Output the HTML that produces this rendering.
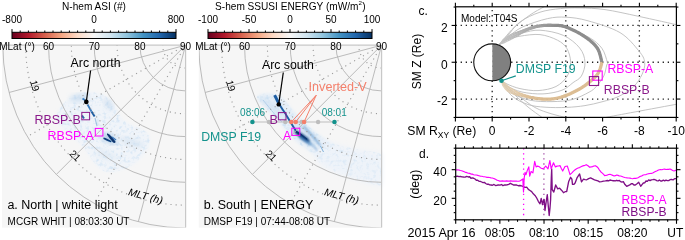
<!DOCTYPE html><html><head><meta charset="utf-8"><style>html,body{margin:0;padding:0;background:#fff;width:685px;height:240px;overflow:hidden}svg{display:block;will-change:transform}</style></head><body><svg width="685" height="240" viewBox="0 0 685 240" font-family='"Liberation Sans", sans-serif'>
<rect width="685" height="240" fill="#fff"/>
<defs><filter id="blur1" x="-20%" y="-20%" width="140%" height="140%"><feGaussianBlur stdDeviation="2.5"/></filter><filter id="blur2" x="-20%" y="-20%" width="140%" height="140%"><feGaussianBlur stdDeviation="0.55"/></filter><filter id="soft" x="-10%" y="-10%" width="120%" height="120%"><feGaussianBlur stdDeviation="1.5"/></filter><filter id="speck" x="-10%" y="-10%" width="120%" height="120%"><feTurbulence type="fractalNoise" baseFrequency="0.3" numOctaves="2" seed="11" result="n"/><feColorMatrix in="n" type="matrix" values="0 0 0 0 0.62  0 0 0 0 0.76  0 0 0 0 0.90  0 0 0 3.0 -1.45" result="c"/><feComposite in="c" in2="SourceAlpha" operator="in" result="m"/><feGaussianBlur in="m" stdDeviation="0.3"/></filter><filter id="blur4" x="-30%" y="-30%" width="160%" height="160%"><feGaussianBlur stdDeviation="0.9"/></filter><filter id="blur3" x="-20%" y="-20%" width="140%" height="140%"><feGaussianBlur stdDeviation="5"/></filter></defs>
<defs><clipPath id="ca"><rect x="2" y="45.0" width="183.6" height="182.6"/></clipPath></defs>
<rect x="2" y="45.0" width="183.6" height="182.6" fill="#f6f6f6"/>
<g>
<path d="M56,121 C56,110 66,98 78,93.5 C88,90.5 100,92 108,97.5 C115,103 118,112 122,119 C128,125 140,127 148,133 C153,140 148,152 138,161 C128,169 114,174 104,171 C95,167 90,156 84,148 C77,140 66,133 56,121 Z" fill="#f0f4f9" filter="url(#soft)"/>
<path d="M56,121 C56,110 66,98 78,93.5 C88,90.5 100,92 108,97.5 C115,103 118,112 122,119 C128,125 140,127 148,133 C153,140 148,152 138,161 C128,169 114,174 104,171 C95,167 90,156 84,148 C77,140 66,133 56,121 Z" fill="#000" filter="url(#speck)" opacity="0.7"/>
<path d="M70,97 C78,93 86,93 90,97 C86,101 78,103 70,101 Z" fill="#b7d1ea" opacity="0.55" filter="url(#blur1)"/>
<path d="M104,99 C110,100 114,106 113,110 C108,109 104,104 104,99 Z" fill="#b3cee8" opacity="0.6" filter="url(#blur1)"/>
<path d="M95,150 C102,148 112,152 118,158 C110,162 100,160 95,150 Z" fill="#cfe0f0" opacity="0.4" filter="url(#blur1)"/>
<path d="M118,138 C126,136 138,140 146,145 C138,150 126,146 118,138 Z" fill="#cfe0f0" opacity="0.6" filter="url(#blur1)"/>
<path d="M87.5,104.5 L91.5,111.5" stroke="#3b7dbf" stroke-width="1.8" fill="none" filter="url(#blur2)"/>
<path d="M91.5,111.5 L94.6,116.5" stroke="#1f5ea3" stroke-width="2" fill="none" filter="url(#blur2)"/>
<path d="M95,118 L97,126" stroke="#5b95cb" stroke-width="1.1" fill="none" filter="url(#blur2)" opacity="0.5"/>
<path d="M82,115.5 L84,118.5" stroke="#2a66a8" stroke-width="2" fill="none" filter="url(#blur2)"/>
<path d="M82.5,98.5 L85.5,100.5" stroke="#3d7fc0" stroke-width="1.8" fill="none" filter="url(#blur2)"/>
<path d="M102.5,136.5 C106,131 112,134 116.5,141 C117,144 114,144.5 111,142.5 C108,141 104.5,140.5 102.5,138.5 Z" fill="#6d9fd0" opacity="0.55" filter="url(#blur1)"/>
<path d="M107.2,133.2 C110,134.5 113,138 115.6,141.8 C115.5,143.3 114,143.2 112.6,142 C110.5,139.5 108.5,137 107,134.6 Z" fill="#0a3470" filter="url(#blur2)"/>
<path d="M103.6,137.6 C106,138.2 109,139.6 111.6,141.2 L110.8,142.2 C108,141.2 105.5,140.2 103.4,139 Z" fill="#0e3f7d" filter="url(#blur2)"/>
<path d="M112,137 L116,140" stroke="#3a78b8" stroke-width="1.2" fill="none" filter="url(#blur2)"/>
</g>
<g clip-path="url(#ca)" fill="none">
<circle cx="185.6" cy="45.2" r="182.80" stroke="#b4b4b4" stroke-width="0.9"/>
<circle cx="185.6" cy="45.2" r="137.10" stroke="#b4b4b4" stroke-width="0.9"/>
<circle cx="185.6" cy="45.2" r="91.40" stroke="#b4b4b4" stroke-width="0.9"/>
<circle cx="185.6" cy="45.2" r="45.70" stroke="#b4b4b4" stroke-width="0.9"/>
<circle cx="185.6" cy="45.2" r="159.95" stroke="#9a9a9a" stroke-width="1.1" stroke-dasharray="1.1 4"/>
<circle cx="185.6" cy="45.2" r="114.25" stroke="#9a9a9a" stroke-width="1.1" stroke-dasharray="1.1 4"/>
<circle cx="185.6" cy="45.2" r="68.55" stroke="#9a9a9a" stroke-width="1.1" stroke-dasharray="1.1 4"/>
<circle cx="185.6" cy="45.2" r="22.85" stroke="#9a9a9a" stroke-width="1.1" stroke-dasharray="1.1 4"/>
<line x1="185.6" y1="45.2" x2="9.03" y2="92.51" stroke="#b4b4b4" stroke-width="0.9"/>
<line x1="185.6" y1="45.2" x2="27.29" y2="136.60" stroke="#9a9a9a" stroke-width="1.1" stroke-dasharray="1.1 4"/>
<line x1="185.6" y1="45.2" x2="56.34" y2="174.46" stroke="#b4b4b4" stroke-width="0.9"/>
<line x1="185.6" y1="45.2" x2="94.20" y2="203.51" stroke="#9a9a9a" stroke-width="1.1" stroke-dasharray="1.1 4"/>
<line x1="185.6" y1="45.2" x2="138.29" y2="221.77" stroke="#b4b4b4" stroke-width="0.9"/>
</g>
<line x1="2" y1="45.2" x2="185.6" y2="45.2" stroke="#c8c8c8" stroke-width="1.2"/>
<line x1="185.6" y1="45.2" x2="185.6" y2="227.6" stroke="#c8c8c8" stroke-width="1.2"/>
<text x="185.6" y="0" font-size="0"></text>
<text x="48.50" y="49.50" font-size="10" text-anchor="middle">60</text>
<text x="94.20" y="49.50" font-size="10" text-anchor="middle">70</text>
<text x="139.90" y="49.50" font-size="10" text-anchor="middle">80</text>
<text x="185.60" y="49.50" font-size="10" text-anchor="middle">90</text>
<text x="17.00" y="49.50" font-size="10" text-anchor="middle">MLat (°)</text>
<text transform="translate(34.92,85.58) rotate(75)" x="0" y="3.6" font-size="10" text-anchor="middle">19</text>
<text transform="translate(75.29,155.51) rotate(45)" x="0" y="3.6" font-size="10" text-anchor="middle">21</text>
<text transform="translate(145.22,195.88) rotate(15)" x="0.4" y="3.6" font-size="10.3" font-style="italic" text-anchor="middle">MLT (h)</text>
<defs><linearGradient id="ga" x1="0" x2="1" y1="0" y2="0"><stop offset="0.000" stop-color="#67001f"/><stop offset="0.100" stop-color="#b2182b"/><stop offset="0.200" stop-color="#d6604d"/><stop offset="0.300" stop-color="#f4a582"/><stop offset="0.400" stop-color="#fddbc7"/><stop offset="0.500" stop-color="#f7f7f7"/><stop offset="0.600" stop-color="#d1e5f0"/><stop offset="0.700" stop-color="#92c5de"/><stop offset="0.800" stop-color="#4393c3"/><stop offset="0.900" stop-color="#2166ac"/><stop offset="1.000" stop-color="#053061"/></linearGradient></defs>
<rect x="12" y="32.3" width="164" height="6.200000000000003" fill="url(#ga)" stroke="#000" stroke-width="1"/>
<line x1="12.00" y1="29.099999999999998" x2="12.00" y2="32.3" stroke="#000" stroke-width="1"/>
<line x1="20.20" y1="30.499999999999996" x2="20.20" y2="32.3" stroke="#000" stroke-width="1"/>
<line x1="28.40" y1="30.499999999999996" x2="28.40" y2="32.3" stroke="#000" stroke-width="1"/>
<line x1="36.60" y1="30.499999999999996" x2="36.60" y2="32.3" stroke="#000" stroke-width="1"/>
<line x1="44.80" y1="30.499999999999996" x2="44.80" y2="32.3" stroke="#000" stroke-width="1"/>
<line x1="53.00" y1="30.499999999999996" x2="53.00" y2="32.3" stroke="#000" stroke-width="1"/>
<line x1="61.20" y1="30.499999999999996" x2="61.20" y2="32.3" stroke="#000" stroke-width="1"/>
<line x1="69.40" y1="30.499999999999996" x2="69.40" y2="32.3" stroke="#000" stroke-width="1"/>
<line x1="77.60" y1="30.499999999999996" x2="77.60" y2="32.3" stroke="#000" stroke-width="1"/>
<line x1="85.80" y1="30.499999999999996" x2="85.80" y2="32.3" stroke="#000" stroke-width="1"/>
<line x1="94.00" y1="29.099999999999998" x2="94.00" y2="32.3" stroke="#000" stroke-width="1"/>
<line x1="102.20" y1="30.499999999999996" x2="102.20" y2="32.3" stroke="#000" stroke-width="1"/>
<line x1="110.40" y1="30.499999999999996" x2="110.40" y2="32.3" stroke="#000" stroke-width="1"/>
<line x1="118.60" y1="30.499999999999996" x2="118.60" y2="32.3" stroke="#000" stroke-width="1"/>
<line x1="126.80" y1="30.499999999999996" x2="126.80" y2="32.3" stroke="#000" stroke-width="1"/>
<line x1="135.00" y1="30.499999999999996" x2="135.00" y2="32.3" stroke="#000" stroke-width="1"/>
<line x1="143.20" y1="30.499999999999996" x2="143.20" y2="32.3" stroke="#000" stroke-width="1"/>
<line x1="151.40" y1="30.499999999999996" x2="151.40" y2="32.3" stroke="#000" stroke-width="1"/>
<line x1="159.60" y1="30.499999999999996" x2="159.60" y2="32.3" stroke="#000" stroke-width="1"/>
<line x1="167.80" y1="30.499999999999996" x2="167.80" y2="32.3" stroke="#000" stroke-width="1"/>
<line x1="176.00" y1="29.099999999999998" x2="176.00" y2="32.3" stroke="#000" stroke-width="1"/>
<text x="12.00" y="22.9" font-size="10" text-anchor="middle">-800</text>
<text x="94.00" y="22.9" font-size="10" text-anchor="middle">0</text>
<text x="176.00" y="22.9" font-size="10" text-anchor="middle">800</text>

<text x="94" y="10" font-size="10.1" text-anchor="middle">N-hem ASI (#)</text>
<text x="70.6" y="67" font-size="12.3">Arc north</text>
<line x1="90.6" y1="70.5" x2="86.3" y2="101.9" stroke="#000" stroke-width="1.2"/>
<circle cx="86.3" cy="101.9" r="2.3" fill="#000"/>
<text x="34.6" y="124" font-size="12.4" fill="#8b1a8b">RBSP-B</text>
<rect x="81.8" y="112.4" width="7.8" height="7.4" fill="none" stroke="#8b1a8b" stroke-width="1"/>
<text x="47.6" y="140.2" font-size="12.4" fill="#ff00ff">RBSP-A</text>
<rect x="95.3" y="128.4" width="7.6" height="7.6" fill="none" stroke="#ff00ff" stroke-width="1"/>
<text x="7.4" y="209.3" font-size="12.5">a. North | white light</text>
<text x="7.6" y="224.6" font-size="10">MCGR WHIT | 08:03:30 UT</text>
<defs><clipPath id="cb"><rect x="198.8" y="45.0" width="182.8" height="182.6"/></clipPath></defs>
<rect x="198.8" y="45.0" width="182.8" height="182.6" fill="#f6f6f6"/>
<g>
<path d="M258,96 C262,93 268,93 274,94 C279,95 283,98 287,103 C292,109 295,113 299,117 C305,123 312,130 322,137 C328,141 334,145 338,148 L330,163 C320,158 308,151 298,143 C290,136 284,128 278,121 C271,113 265,107 260,102 C257,99 256,97 258,96 Z" fill="#e6eff8" filter="url(#soft)"/>
<path d="M258,96 C262,93 268,93 274,94 C279,95 283,98 287,103 C292,109 295,113 299,117 C305,123 312,130 322,137 C328,141 334,145 338,148 L330,163 C320,158 308,151 298,143 C290,136 284,128 278,121 C271,113 265,107 260,102 C257,99 256,97 258,96 Z" fill="#000" filter="url(#speck)" opacity="0.9"/>
<path d="M318,138 C335,145 355,150 382,153 L382,186 C364,183 342,176 326,168 C316,162 312,152 312,146 Z" fill="#eef3f9" filter="url(#blur1)"/>
<path d="M318,138 C335,145 355,150 382,153 L382,186 C364,183 342,176 326,168 C316,162 312,152 312,146 Z" fill="#000" filter="url(#speck)" opacity="0.55"/>
<path d="M260,97 C266,98 276,104 286,116 C280,118 270,110 260,100 Z" fill="#c4daee" opacity="0.5" filter="url(#blur1)"/>
<path d="M292,120 C300,126 310,132 322,142 C316,146 304,138 294,128 Z" fill="#b5d0ea" opacity="0.4" filter="url(#blur1)"/>
<path d="M274.6,95.2 C276.5,99 278,102 279.5,104.5" stroke="#1d5da3" stroke-width="3" fill="none" filter="url(#blur2)"/>
<path d="M278.5,103 C280.5,106 282,109 284.4,112 C288,118 292,125 296,131" stroke="#1f5fa5" stroke-width="1.9" fill="none" filter="url(#blur2)"/>
<path d="M294.5,130 C298,131 303,134 307,137.5 C309.5,139.5 310.5,142 309.5,142.8 C306.5,142.3 301.5,139 297.5,135.5 C294.5,133 293.5,131 294.5,130 Z" fill="#0d3d7a" filter="url(#blur4)"/>
<path d="M296,131.5 C299.5,133.5 303.5,136.5 307,139.5" stroke="#08306b" stroke-width="1.6" fill="none" filter="url(#blur2)"/>
<path d="M300,137 C304,140 308,143 311,145" stroke="#3f80c0" stroke-width="2.2" fill="none" filter="url(#blur4)" opacity="0.7"/>
<path d="M310,142.5 C312.5,145 314.5,147 317,150" stroke="#3a7dbf" stroke-width="1.5" fill="none" filter="url(#blur4)" opacity="0.6"/>
<path d="M303.5,126 C307,130 310,133 313,136.5 C316,140 318.5,143 320.5,146" stroke="#3b7fc0" stroke-width="1.5" fill="none" filter="url(#blur4)" opacity="0.7"/>
<path d="M320.5,146 C321.5,148 322.5,150 323.5,152" stroke="#7fb0da" stroke-width="1" fill="none" filter="url(#blur2)"/>
<path d="M263,100 C268,106 274,114 282,122" stroke="#b3d0ea" stroke-width="1" fill="none" filter="url(#blur2)"/>
</g>
<g clip-path="url(#cb)" fill="none">
<circle cx="381.6" cy="45.2" r="182.80" stroke="#b4b4b4" stroke-width="0.9"/>
<circle cx="381.6" cy="45.2" r="137.10" stroke="#b4b4b4" stroke-width="0.9"/>
<circle cx="381.6" cy="45.2" r="91.40" stroke="#b4b4b4" stroke-width="0.9"/>
<circle cx="381.6" cy="45.2" r="45.70" stroke="#b4b4b4" stroke-width="0.9"/>
<circle cx="381.6" cy="45.2" r="159.95" stroke="#9a9a9a" stroke-width="1.1" stroke-dasharray="1.1 4"/>
<circle cx="381.6" cy="45.2" r="114.25" stroke="#9a9a9a" stroke-width="1.1" stroke-dasharray="1.1 4"/>
<circle cx="381.6" cy="45.2" r="68.55" stroke="#9a9a9a" stroke-width="1.1" stroke-dasharray="1.1 4"/>
<circle cx="381.6" cy="45.2" r="22.85" stroke="#9a9a9a" stroke-width="1.1" stroke-dasharray="1.1 4"/>
<line x1="381.6" y1="45.2" x2="205.03" y2="92.51" stroke="#b4b4b4" stroke-width="0.9"/>
<line x1="381.6" y1="45.2" x2="223.29" y2="136.60" stroke="#9a9a9a" stroke-width="1.1" stroke-dasharray="1.1 4"/>
<line x1="381.6" y1="45.2" x2="252.34" y2="174.46" stroke="#b4b4b4" stroke-width="0.9"/>
<line x1="381.6" y1="45.2" x2="290.20" y2="203.51" stroke="#9a9a9a" stroke-width="1.1" stroke-dasharray="1.1 4"/>
<line x1="381.6" y1="45.2" x2="334.29" y2="221.77" stroke="#b4b4b4" stroke-width="0.9"/>
</g>
<line x1="198.8" y1="45.2" x2="381.6" y2="45.2" stroke="#c8c8c8" stroke-width="1.2"/>
<line x1="381.6" y1="45.2" x2="381.6" y2="227.6" stroke="#c8c8c8" stroke-width="1.2"/>
<text x="381.6" y="0" font-size="0"></text>
<text x="244.50" y="49.50" font-size="10" text-anchor="middle">60</text>
<text x="290.20" y="49.50" font-size="10" text-anchor="middle">70</text>
<text x="335.90" y="49.50" font-size="10" text-anchor="middle">80</text>
<text x="381.60" y="49.50" font-size="10" text-anchor="middle">90</text>
<text x="213.00" y="49.50" font-size="10" text-anchor="middle">MLat (°)</text>
<text transform="translate(230.92,85.58) rotate(75)" x="0" y="3.6" font-size="10" text-anchor="middle">19</text>
<text transform="translate(271.29,155.51) rotate(45)" x="0" y="3.6" font-size="10" text-anchor="middle">21</text>
<text transform="translate(341.22,195.88) rotate(15)" x="0.4" y="3.6" font-size="10.3" font-style="italic" text-anchor="middle">MLT (h)</text>
<defs><linearGradient id="gb" x1="0" x2="1" y1="0" y2="0"><stop offset="0.000" stop-color="#67001f"/><stop offset="0.100" stop-color="#b2182b"/><stop offset="0.200" stop-color="#d6604d"/><stop offset="0.300" stop-color="#f4a582"/><stop offset="0.400" stop-color="#fddbc7"/><stop offset="0.500" stop-color="#f7f7f7"/><stop offset="0.600" stop-color="#d1e5f0"/><stop offset="0.700" stop-color="#92c5de"/><stop offset="0.800" stop-color="#4393c3"/><stop offset="0.900" stop-color="#2166ac"/><stop offset="1.000" stop-color="#053061"/></linearGradient></defs>
<rect x="208" y="32.3" width="164" height="6.200000000000003" fill="url(#gb)" stroke="#000" stroke-width="1"/>
<line x1="208.00" y1="29.099999999999998" x2="208.00" y2="32.3" stroke="#000" stroke-width="1"/>
<line x1="216.20" y1="30.499999999999996" x2="216.20" y2="32.3" stroke="#000" stroke-width="1"/>
<line x1="224.40" y1="30.499999999999996" x2="224.40" y2="32.3" stroke="#000" stroke-width="1"/>
<line x1="232.60" y1="30.499999999999996" x2="232.60" y2="32.3" stroke="#000" stroke-width="1"/>
<line x1="240.80" y1="30.499999999999996" x2="240.80" y2="32.3" stroke="#000" stroke-width="1"/>
<line x1="249.00" y1="29.099999999999998" x2="249.00" y2="32.3" stroke="#000" stroke-width="1"/>
<line x1="257.20" y1="30.499999999999996" x2="257.20" y2="32.3" stroke="#000" stroke-width="1"/>
<line x1="265.40" y1="30.499999999999996" x2="265.40" y2="32.3" stroke="#000" stroke-width="1"/>
<line x1="273.60" y1="30.499999999999996" x2="273.60" y2="32.3" stroke="#000" stroke-width="1"/>
<line x1="281.80" y1="30.499999999999996" x2="281.80" y2="32.3" stroke="#000" stroke-width="1"/>
<line x1="290.00" y1="29.099999999999998" x2="290.00" y2="32.3" stroke="#000" stroke-width="1"/>
<line x1="298.20" y1="30.499999999999996" x2="298.20" y2="32.3" stroke="#000" stroke-width="1"/>
<line x1="306.40" y1="30.499999999999996" x2="306.40" y2="32.3" stroke="#000" stroke-width="1"/>
<line x1="314.60" y1="30.499999999999996" x2="314.60" y2="32.3" stroke="#000" stroke-width="1"/>
<line x1="322.80" y1="30.499999999999996" x2="322.80" y2="32.3" stroke="#000" stroke-width="1"/>
<line x1="331.00" y1="29.099999999999998" x2="331.00" y2="32.3" stroke="#000" stroke-width="1"/>
<line x1="339.20" y1="30.499999999999996" x2="339.20" y2="32.3" stroke="#000" stroke-width="1"/>
<line x1="347.40" y1="30.499999999999996" x2="347.40" y2="32.3" stroke="#000" stroke-width="1"/>
<line x1="355.60" y1="30.499999999999996" x2="355.60" y2="32.3" stroke="#000" stroke-width="1"/>
<line x1="363.80" y1="30.499999999999996" x2="363.80" y2="32.3" stroke="#000" stroke-width="1"/>
<line x1="372.00" y1="29.099999999999998" x2="372.00" y2="32.3" stroke="#000" stroke-width="1"/>
<text x="208.00" y="22.9" font-size="10" text-anchor="middle">-100</text>
<text x="249.00" y="22.9" font-size="10" text-anchor="middle">-50</text>
<text x="290.00" y="22.9" font-size="10" text-anchor="middle">0</text>
<text x="331.00" y="22.9" font-size="10" text-anchor="middle">50</text>
<text x="372.00" y="22.9" font-size="10" text-anchor="middle">100</text>

<text x="290.4" y="10" font-size="10.1" text-anchor="middle">S-hem SSUSI ENERGY (mW/m<tspan dy="-5" font-size="6.2">2</tspan><tspan dy="5" dx="0.4">)</tspan></text>
<text x="262" y="68.7" font-size="12.3">Arc south</text>
<line x1="283.3" y1="72.5" x2="278.7" y2="104.4" stroke="#000" stroke-width="1.2"/>
<circle cx="278.7" cy="104.4" r="2.2" fill="#000"/>
<line x1="252.4" y1="122" x2="334.5" y2="122" stroke="#bdbdbd" stroke-width="1.2"/>
<circle cx="268.9" cy="122" r="2.2" fill="#bdbdbd"/>
<circle cx="285.3" cy="122" r="2.2" fill="#bdbdbd"/>
<circle cx="301.7" cy="122" r="2.2" fill="#bdbdbd"/>
<circle cx="318.1" cy="122" r="2.2" fill="#bdbdbd"/>
<circle cx="252.4" cy="122" r="2.3" fill="#13928c"/>
<circle cx="334.5" cy="122" r="2.3" fill="#13928c"/>
<line x1="316.2" y1="95.3" x2="291.3" y2="122" stroke="#f4806c" stroke-width="1"/>
<circle cx="291.3" cy="122" r="2.3" fill="#f4806c"/>
<line x1="316.2" y1="95.3" x2="295.7" y2="122" stroke="#f4806c" stroke-width="1"/>
<circle cx="295.7" cy="122" r="2.3" fill="#f4806c"/>
<line x1="316.2" y1="95.3" x2="304.1" y2="122" stroke="#f4806c" stroke-width="1"/>
<circle cx="304.1" cy="122" r="2.3" fill="#f4806c"/>
<text x="308.6" y="90.9" font-size="12.6" fill="#f4806c">Inverted-V</text>
<text x="252.6" y="116.2" font-size="10" fill="#13928c" text-anchor="middle">08:06</text>
<text x="334.2" y="116.2" font-size="10" fill="#13928c" text-anchor="middle">08:01</text>
<text x="201.2" y="140.6" font-size="12.3" fill="#13928c">DMSP F19</text>
<text x="269.4" y="124" font-size="12.6" fill="#8b1a8b">B</text>
<rect x="278.4" y="112.6" width="7.6" height="7.2" fill="none" stroke="#8b1a8b" stroke-width="1"/>
<text x="283" y="139.9" font-size="12.3" fill="#ff00ff">A</text>
<rect x="291.8" y="128.2" width="8" height="7.2" fill="none" stroke="#ff00ff" stroke-width="1"/>
<text x="203.8" y="209.3" font-size="12.5">b. South | ENERGY</text>
<text x="203.8" y="224.6" font-size="10">DMSP F19 | 07:44-08:08 UT</text>
<defs><clipPath id="cc"><rect x="455.6" y="6.8" width="220.8" height="110.6"/></clipPath></defs>
<g clip-path="url(#cc)" fill="none">
<line x1="455.6" y1="25.45" x2="676.4" y2="25.45" stroke="#222" stroke-width="1.3" stroke-dasharray="1.3 3.75"/>
<line x1="455.6" y1="62.25" x2="676.4" y2="62.25" stroke="#222" stroke-width="1.3" stroke-dasharray="1.3 3.75"/>
<line x1="455.6" y1="99.05" x2="676.4" y2="99.05" stroke="#222" stroke-width="1.3" stroke-dasharray="1.3 3.75"/>
<line x1="492.20" y1="6.8" x2="492.20" y2="117.4" stroke="#222" stroke-width="1.3" stroke-dasharray="1.3 3.75" stroke-dashoffset="1.8"/>
<line x1="565.80" y1="6.8" x2="565.80" y2="117.4" stroke="#222" stroke-width="1.3" stroke-dasharray="1.3 3.75" stroke-dashoffset="1.8"/>
<line x1="639.40" y1="6.8" x2="639.40" y2="117.4" stroke="#222" stroke-width="1.3" stroke-dasharray="1.3 3.75" stroke-dashoffset="1.8"/>
<path d="M499.30,44.60 C500.42,43.87 502.55,41.60 506.00,40.20 C509.45,38.80 514.33,37.13 520.00,36.20 C525.67,35.27 533.75,33.93 540.00,34.60 C546.25,35.27 553.02,37.88 557.50,40.20 C561.98,42.52 564.72,44.83 566.90,48.50 C569.08,52.17 570.53,57.67 570.60,62.25 C570.67,66.83 569.73,71.96 567.30,76.00 C564.87,80.04 560.88,84.07 556.00,86.50 C551.12,88.93 544.00,90.25 538.00,90.60 C532.00,90.95 525.17,89.70 520.00,88.60 C514.83,87.50 510.20,85.43 507.00,84.00 C503.80,82.57 501.83,80.67 500.80,80.00" stroke="#bdbdbd" stroke-width="0.9"/>
<path d="M499.30,44.60 C500.58,43.70 503.22,41.10 507.00,39.20 C510.78,37.30 516.50,34.70 522.00,33.20 C527.50,31.70 533.10,29.83 540.00,30.20 C546.90,30.57 556.78,32.43 563.40,35.40 C570.02,38.37 576.10,43.52 579.70,48.00 C583.30,52.48 584.72,57.58 585.00,62.25 C585.28,66.92 583.38,72.61 581.40,76.00 C579.42,79.39 576.33,80.23 573.10,82.60 C569.87,84.97 567.02,88.32 562.00,90.20 C556.98,92.08 549.67,93.60 543.00,93.90 C536.33,94.20 528.00,93.32 522.00,92.00 C516.00,90.68 510.53,88.00 507.00,86.00 C503.47,84.00 501.83,81.00 500.80,80.00" stroke="#bdbdbd" stroke-width="0.9"/>
<path d="M499.30,44.60 C500.75,43.43 503.88,40.10 508.00,37.60 C512.12,35.10 517.83,31.67 524.00,29.60 C530.17,27.53 537.85,25.47 545.00,25.20 C552.15,24.93 559.57,25.97 566.90,28.00 C574.23,30.03 583.17,34.02 589.00,37.40 C594.83,40.78 598.85,44.16 601.90,48.30 C604.95,52.44 606.50,59.47 607.30,62.25 C608.10,65.03 607.28,62.71 606.70,65.00 C606.12,67.29 605.50,72.45 603.80,76.00 C602.10,79.55 598.93,83.62 596.50,86.30 C594.07,88.98 593.28,89.88 589.20,92.10 C585.12,94.32 578.20,98.02 572.00,99.60 C565.80,101.18 559.00,101.50 552.00,101.60 C545.00,101.70 536.67,101.63 530.00,100.20 C523.33,98.77 516.87,96.37 512.00,93.00 C507.13,89.63 502.67,82.17 500.80,80.00" stroke="#bdbdbd" stroke-width="0.9"/>
<path d="M499.30,44.60 C500.75,43.33 504.13,39.93 508.00,37.00 C511.87,34.07 515.90,30.07 522.50,27.00 C529.10,23.93 540.35,20.23 547.60,18.60 C554.85,16.97 559.27,16.83 566.00,17.20 C572.73,17.57 579.00,18.23 588.00,20.80 C597.00,23.37 611.52,27.57 620.00,32.60 C628.48,37.63 634.78,46.06 638.90,51.00 C643.02,55.94 644.18,58.33 644.70,62.25 C645.22,66.17 643.85,70.44 642.00,74.50 C640.15,78.56 637.43,82.97 633.60,86.60 C629.77,90.23 624.27,93.77 619.00,96.30 C613.73,98.83 607.67,100.25 602.00,101.80 C596.33,103.35 590.92,104.67 585.00,105.60 C579.08,106.53 573.17,107.13 566.50,107.40 C559.83,107.67 551.42,107.68 545.00,107.20 C538.58,106.72 533.50,106.37 528.00,104.50 C522.50,102.63 516.53,100.08 512.00,96.00 C507.47,91.92 502.67,82.67 500.80,80.00" stroke="#bdbdbd" stroke-width="0.9"/>
<path d="M499.30,44.60 C500.58,43.25 503.55,40.27 507.00,36.50 C510.45,32.73 514.50,26.05 520.00,22.00 C525.50,17.95 533.27,14.43 540.00,12.20 C546.73,9.97 553.73,9.32 560.40,8.60 C567.07,7.88 572.57,7.73 580.00,7.90 C587.43,8.07 595.18,8.18 605.00,9.60 C614.82,11.02 626.40,13.75 638.90,16.40 C651.40,19.05 673.15,23.98 680.00,25.50" stroke="#bdbdbd" stroke-width="0.9"/>
<path d="M499.30,44.60 C500.25,43.42 502.45,40.43 505.00,37.50 C507.55,34.57 510.43,30.75 514.60,27.00 C518.77,23.25 524.93,18.45 530.00,15.00 C535.07,11.55 540.00,8.97 545.00,6.30 C550.00,3.63 557.50,0.22 560.00,-1.00" stroke="#bdbdbd" stroke-width="0.9"/>
<path d="M500.80,80.00 C501.83,81.33 504.65,85.50 507.00,88.00 C509.35,90.50 511.40,91.83 514.90,95.00 C518.40,98.17 523.48,103.27 528.00,107.00 C532.52,110.73 538.67,114.90 542.00,117.40 C545.33,119.90 547.00,121.23 548.00,122.00" stroke="#bdbdbd" stroke-width="0.9"/>
<path d="M500.80,80.00 C502.00,81.25 505.22,85.00 508.00,87.50 C510.78,90.00 513.00,91.67 517.50,95.00 C522.00,98.33 529.25,104.33 535.00,107.50 C540.75,110.67 546.75,112.32 552.00,114.00 C557.25,115.68 561.83,116.43 566.50,117.60 C571.17,118.77 577.75,120.43 580.00,121.00" stroke="#bdbdbd" stroke-width="0.9"/>
<path d="M585.00,122.00 C588.50,121.23 596.83,119.23 606.00,117.40 C615.17,115.57 626.83,113.45 640.00,111.00 C653.17,108.55 677.50,104.08 685.00,102.70" stroke="#bdbdbd" stroke-width="0.9"/>
<defs><linearGradient id="gN" gradientUnits="userSpaceOnUse" x1="502" y1="0" x2="556" y2="0"><stop offset="0" stop-color="#c4c4c4"/><stop offset="1" stop-color="#8a8a8a"/></linearGradient><linearGradient id="gS" gradientUnits="userSpaceOnUse" x1="501" y1="0" x2="532" y2="0"><stop offset="0" stop-color="#e2cfb4"/><stop offset="1" stop-color="#dbbb90"/></linearGradient></defs>
<path d="M499.30,44.60 L499.70,44.28 L500.15,43.82 L500.63,43.23 L501.13,42.49 L501.65,41.66 L502.21,40.79 L502.87,39.96 L503.65,39.26 L504.47,38.58 L505.29,37.92 L506.12,37.29 L506.94,36.71 L507.76,36.18 L508.59,35.68 L509.44,35.20 L510.31,34.76 L511.20,34.34 L512.10,33.95 L513.01,33.58 L513.93,33.22 L514.87,32.88 L515.81,32.55 L516.76,32.22 L517.71,31.89 L518.67,31.55 L519.66,31.19 L520.67,30.81 L521.68,30.42 L522.70,30.02 L523.73,29.61 L524.74,29.21 L525.75,28.80 L526.75,28.41 L527.73,28.03 L528.70,27.68 L529.63,27.35 L530.53,27.05 L531.40,26.76 L532.24,26.50 L533.07,26.25 L533.89,26.02 L534.70,25.81 L535.52,25.61 L536.35,25.42 L537.19,25.25 L538.05,25.09 L538.93,24.95 L539.85,24.81 L540.79,24.69 L541.74,24.57 L542.71,24.47 L543.70,24.38 L544.70,24.31 L545.71,24.25 L546.74,24.20 L547.77,24.17 L548.83,24.15 L549.89,24.15 L550.96,24.17 L552.03,24.20 L553.09,24.23 L554.14,24.25 L555.20,24.26 L556.28,24.28 L557.38,24.31 L558.51,24.37 L559.66,24.47 L560.85,24.61 L562.09,24.81 L563.36,25.08 L564.68,25.43 L566.05,25.86 L567.49,26.38 L569.02,26.98 L570.60,27.66 L572.25,28.41 L573.92,29.20 L575.61,30.04 L577.29,30.92 L578.95,31.82 L580.57,32.74 L582.14,33.66 L583.62,34.58 L585.01,35.48 L586.33,36.38 L587.61,37.29 L588.87,38.21 L590.09,39.15 L591.27,40.10 L592.40,41.08 L593.49,42.07 L594.53,43.09 L595.52,44.12 L596.45,45.18 L597.31,46.27 L598.12,47.39 L598.86,48.61 L599.51,49.93 L600.08,51.32 L600.58,52.74 L601.03,54.16 L601.41,55.57 L601.75,56.93 L602.05,58.21 L602.32,59.38 L602.55,60.42 L602.76,61.27 L602.96,61.94" stroke="url(#gN)" stroke-width="1.1" stroke-opacity="0.95"/>
<path d="M499.30,44.60 L499.71,44.29 L500.19,43.87 L500.73,43.35 L501.31,42.74 L501.93,42.05 L502.61,41.33 L503.34,40.62 L504.15,39.97 L504.99,39.34 L505.82,38.72 L506.65,38.14 L507.47,37.60 L508.28,37.11 L509.11,36.63 L509.95,36.18 L510.80,35.74 L511.67,35.32 L512.56,34.91 L513.45,34.52 L514.36,34.14 L515.27,33.76 L516.19,33.39 L517.12,33.02 L518.05,32.65 L519.00,32.26 L519.97,31.86 L520.96,31.45 L521.96,31.03 L522.97,30.60 L523.98,30.18 L524.98,29.75 L525.98,29.34 L526.97,28.94 L527.94,28.56 L528.89,28.20 L529.82,27.87 L530.71,27.57 L531.57,27.29 L532.40,27.03 L533.22,26.78 L534.03,26.55 L534.84,26.34 L535.65,26.14 L536.46,25.96 L537.29,25.79 L538.14,25.64 L539.02,25.49 L539.92,25.36 L540.86,25.23 L541.80,25.12 L542.77,25.02 L543.74,24.93 L544.73,24.86 L545.74,24.79 L546.76,24.75 L547.79,24.72 L548.83,24.70 L549.88,24.70 L550.95,24.72 L552.02,24.75 L553.08,24.78 L554.13,24.80 L555.20,24.81 L556.27,24.83 L557.36,24.86 L558.47,24.92 L559.61,25.01 L560.78,25.16 L561.98,25.35 L563.23,25.62 L564.53,25.95 L565.88,26.38 L567.30,26.89 L568.81,27.49 L570.38,28.17 L572.01,28.90 L573.68,29.70 L575.36,30.53 L577.03,31.41 L578.68,32.30 L580.30,33.22 L581.85,34.13 L583.33,35.05 L584.70,35.94 L586.01,36.83 L587.29,37.73 L588.54,38.65 L589.74,39.58 L590.91,40.53 L592.04,41.49 L593.12,42.47 L594.14,43.47 L595.11,44.49 L596.03,45.54 L596.87,46.60 L597.66,47.70 L598.37,48.88 L599.01,50.16 L599.57,51.51 L600.06,52.91 L600.50,54.32 L600.88,55.71 L601.22,57.06 L601.52,58.33 L601.78,59.51 L602.02,60.54 L602.23,61.41 L602.43,62.10" stroke="url(#gN)" stroke-width="1.1" stroke-opacity="0.95"/>
<path d="M499.30,44.60 L499.71,44.30 L500.23,43.92 L500.82,43.48 L501.49,42.98 L502.22,42.44 L503.00,41.87 L503.81,41.28 L504.65,40.69 L505.50,40.10 L506.35,39.53 L507.19,38.99 L508.00,38.50 L508.80,38.04 L509.62,37.59 L510.45,37.15 L511.30,36.72 L512.15,36.30 L513.02,35.88 L513.90,35.47 L514.78,35.06 L515.68,34.64 L516.58,34.23 L517.49,33.82 L518.40,33.40 L519.33,32.97 L520.28,32.53 L521.25,32.08 L522.24,31.63 L523.23,31.18 L524.22,30.74 L525.22,30.30 L526.21,29.88 L527.18,29.47 L528.15,29.09 L529.09,28.73 L530.00,28.40 L530.88,28.10 L531.74,27.82 L532.57,27.55 L533.38,27.31 L534.18,27.08 L534.98,26.88 L535.77,26.68 L536.58,26.50 L537.40,26.33 L538.24,26.18 L539.10,26.03 L540.00,25.90 L540.92,25.78 L541.86,25.66 L542.82,25.56 L543.79,25.48 L544.77,25.40 L545.77,25.34 L546.78,25.30 L547.80,25.27 L548.83,25.25 L549.88,25.25 L550.93,25.27 L552.00,25.30 L553.07,25.33 L554.13,25.35 L555.19,25.36 L556.26,25.38 L557.33,25.41 L558.43,25.47 L559.55,25.56 L560.70,25.70 L561.88,25.89 L563.11,26.15 L564.38,26.48 L565.70,26.90 L567.10,27.41 L568.60,28.00 L570.16,28.67 L571.78,29.40 L573.44,30.19 L575.11,31.03 L576.77,31.89 L578.42,32.79 L580.02,33.69 L581.57,34.60 L583.03,35.51 L584.40,36.40 L585.70,37.28 L586.97,38.18 L588.20,39.09 L589.40,40.01 L590.56,40.95 L591.68,41.90 L592.74,42.87 L593.75,43.86 L594.71,44.86 L595.60,45.89 L596.44,46.93 L597.20,48.00 L597.89,49.14 L598.51,50.39 L599.05,51.71 L599.54,53.08 L599.97,54.47 L600.35,55.85 L600.69,57.19 L600.98,58.46 L601.25,59.63 L601.48,60.67 L601.70,61.55 L601.90,62.25" stroke="url(#gN)" stroke-width="1.1" stroke-opacity="0.95"/>
<path d="M499.30,44.60 L499.72,44.31 L500.26,43.98 L500.92,43.61 L501.67,43.23 L502.51,42.83 L503.39,42.41 L504.29,41.94 L505.15,41.40 L506.02,40.86 L506.88,40.34 L507.72,39.85 L508.53,39.40 L509.33,38.97 L510.14,38.55 L510.96,38.13 L511.79,37.70 L512.63,37.28 L513.48,36.85 L514.34,36.41 L515.20,35.97 L516.08,35.53 L516.96,35.07 L517.85,34.62 L518.75,34.15 L519.66,33.68 L520.59,33.20 L521.55,32.72 L522.51,32.24 L523.49,31.76 L524.47,31.30 L525.46,30.85 L526.43,30.41 L527.40,30.00 L528.35,29.61 L529.28,29.25 L530.18,28.93 L531.06,28.62 L531.91,28.34 L532.73,28.08 L533.53,27.84 L534.32,27.62 L535.11,27.41 L535.90,27.22 L536.69,27.04 L537.50,26.87 L538.33,26.72 L539.19,26.58 L540.08,26.44 L540.99,26.32 L541.93,26.21 L542.87,26.11 L543.83,26.03 L544.81,25.95 L545.80,25.89 L546.80,25.85 L547.81,25.82 L548.84,25.80 L549.87,25.80 L550.92,25.82 L551.98,25.85 L553.05,25.88 L554.12,25.90 L555.18,25.91 L556.24,25.93 L557.31,25.96 L558.39,26.02 L559.50,26.11 L560.62,26.24 L561.78,26.43 L562.98,26.69 L564.23,27.01 L565.52,27.42 L566.91,27.92 L568.39,28.51 L569.94,29.17 L571.55,29.90 L573.19,30.69 L574.86,31.52 L576.52,32.38 L578.15,33.27 L579.75,34.17 L581.28,35.07 L582.74,35.97 L584.10,36.86 L585.39,37.74 L586.65,38.63 L587.87,39.53 L589.06,40.44 L590.21,41.37 L591.31,42.32 L592.36,43.27 L593.36,44.25 L594.30,45.24 L595.18,46.24 L596.00,47.27 L596.74,48.30 L597.41,49.40 L598.01,50.61 L598.54,51.91 L599.02,53.25 L599.44,54.63 L599.82,55.99 L600.15,57.32 L600.45,58.58 L600.71,59.75 L600.95,60.80 L601.17,61.69 L601.37,62.40" stroke="url(#gN)" stroke-width="1.1" stroke-opacity="0.95"/>
<path d="M499.30,44.60 L499.73,44.32 L500.30,44.03 L501.01,43.74 L501.86,43.47 L502.80,43.22 L503.79,42.95 L504.76,42.60 L505.65,42.11 L506.53,41.62 L507.41,41.14 L508.25,40.70 L509.06,40.29 L509.85,39.90 L510.65,39.51 L511.46,39.10 L512.28,38.69 L513.11,38.26 L513.94,37.82 L514.78,37.36 L515.63,36.89 L516.48,36.41 L517.34,35.91 L518.21,35.41 L519.09,34.91 L519.99,34.40 L520.90,33.88 L521.84,33.36 L522.79,32.85 L523.75,32.35 L524.72,31.86 L525.69,31.40 L526.66,30.95 L527.62,30.53 L528.56,30.14 L529.48,29.78 L530.37,29.45 L531.24,29.15 L532.08,28.87 L532.89,28.61 L533.69,28.37 L534.47,28.15 L535.25,27.94 L536.02,27.75 L536.81,27.58 L537.61,27.41 L538.43,27.26 L539.27,27.12 L540.15,26.99 L541.06,26.87 L541.99,26.76 L542.93,26.66 L543.88,26.57 L544.85,26.50 L545.83,26.44 L546.82,26.40 L547.83,26.37 L548.84,26.35 L549.87,26.35 L550.91,26.37 L551.97,26.40 L553.04,26.43 L554.11,26.45 L555.17,26.46 L556.23,26.48 L557.29,26.51 L558.36,26.57 L559.44,26.66 L560.55,26.79 L561.68,26.97 L562.85,27.22 L564.07,27.54 L565.35,27.94 L566.71,28.44 L568.18,29.02 L569.72,29.68 L571.32,30.40 L572.95,31.18 L574.61,32.01 L576.26,32.86 L577.89,33.75 L579.47,34.64 L581.00,35.55 L582.44,36.44 L583.79,37.32 L585.07,38.19 L586.33,39.07 L587.54,39.97 L588.72,40.88 L589.86,41.80 L590.95,42.73 L591.99,43.67 L592.97,44.63 L593.90,45.61 L594.76,46.59 L595.56,47.60 L596.28,48.61 L596.93,49.67 L597.50,50.84 L598.03,52.10 L598.50,53.43 L598.91,54.78 L599.29,56.13 L599.62,57.45 L599.91,58.70 L600.17,59.87 L600.41,60.92 L600.64,61.83 L600.84,62.56" stroke="url(#gN)" stroke-width="1.1" stroke-opacity="0.95"/>
<path d="M500.80,80.00 L501.25,80.48 L501.84,81.04 L502.61,81.64 L503.54,82.26 L504.55,82.92 L505.51,83.67 L506.36,84.54 L507.26,85.40 L508.20,86.22 L509.16,86.98 L510.14,87.68 L511.15,88.32 L512.27,88.97 L513.53,89.67 L514.90,90.40 L516.35,91.16 L517.89,91.92 L519.49,92.65 L521.14,93.34 L522.83,93.97 L524.52,94.54 L526.21,95.05 L527.86,95.50 L529.46,95.91 L531.03,96.28 L532.61,96.61 L534.20,96.91 L535.79,97.17 L537.38,97.41 L538.97,97.61 L540.53,97.78 L542.08,97.91 L543.61,98.01 L545.10,98.08 L546.56,98.11 L547.98,98.10 L549.35,98.06 L550.66,97.99 L551.93,97.88 L553.17,97.75 L554.38,97.57 L555.58,97.37 L556.77,97.13 L557.98,96.85 L559.19,96.54 L560.44,96.18 L561.72,95.79 L563.05,95.36 L564.42,94.88 L565.84,94.35 L567.30,93.78 L568.77,93.16 L570.27,92.50 L571.77,91.82 L573.27,91.10 L574.75,90.36 L576.21,89.60 L577.63,88.83 L579.00,88.05 L580.33,87.26 L581.62,86.45 L582.92,85.58 L584.22,84.66 L585.51,83.72 L586.78,82.75 L588.01,81.78 L589.20,80.81 L590.34,79.85 L591.41,78.92 L592.41,78.03 L593.32,77.19 L594.13,76.41 L594.83,75.71 L595.42,75.06 L595.93,74.46 L596.35,73.90 L596.71,73.36 L597.03,72.85 L597.31,72.34 L597.56,71.82 L597.81,71.29 L598.06,70.74 L598.32,70.15 L598.60,69.55 L598.86,68.93 L599.11,68.28 L599.35,67.58 L599.58,66.86 L599.78,66.12 L599.98,65.40 L600.16,64.69 L600.32,64.02 L600.47,63.40 L600.61,62.84 L600.73,62.35 L600.84,61.96" stroke="url(#gS)" stroke-width="1.1" stroke-opacity="0.95"/>
<path d="M500.80,80.00 L501.23,80.49 L501.76,81.09 L502.42,81.77 L503.18,82.52 L504.01,83.31 L504.86,84.17 L505.68,85.11 L506.56,86.04 L507.49,86.93 L508.47,87.78 L509.50,88.56 L510.57,89.26 L511.76,89.93 L513.08,90.63 L514.50,91.33 L516.01,92.03 L517.60,92.71 L519.25,93.37 L520.93,94.00 L522.64,94.58 L524.36,95.12 L526.06,95.61 L527.72,96.06 L529.33,96.46 L530.91,96.82 L532.50,97.15 L534.10,97.45 L535.71,97.72 L537.31,97.95 L538.90,98.15 L540.48,98.32 L542.04,98.46 L543.58,98.56 L545.09,98.63 L546.56,98.66 L547.99,98.65 L549.37,98.61 L550.70,98.54 L551.99,98.43 L553.24,98.29 L554.47,98.12 L555.68,97.91 L556.89,97.67 L558.11,97.38 L559.34,97.07 L560.60,96.71 L561.89,96.31 L563.22,95.88 L564.61,95.40 L566.04,94.86 L567.50,94.29 L568.99,93.66 L570.50,93.01 L572.00,92.31 L573.51,91.59 L575.00,90.85 L576.46,90.09 L577.89,89.31 L579.28,88.52 L580.61,87.73 L581.92,86.91 L583.23,86.03 L584.54,85.11 L585.84,84.16 L587.12,83.19 L588.36,82.21 L589.55,81.23 L590.69,80.27 L591.77,79.34 L592.78,78.44 L593.69,77.59 L594.52,76.81 L595.23,76.09 L595.84,75.42 L596.36,74.80 L596.80,74.22 L597.18,73.66 L597.51,73.12 L597.80,72.59 L598.06,72.06 L598.31,71.52 L598.56,70.96 L598.82,70.38 L599.10,69.78 L599.37,69.14 L599.63,68.46 L599.87,67.75 L600.10,67.01 L600.31,66.27 L600.51,65.54 L600.69,64.82 L600.86,64.15 L601.01,63.53 L601.14,62.97 L601.26,62.49 L601.37,62.10" stroke="url(#gS)" stroke-width="1.1" stroke-opacity="0.95"/>
<path d="M500.80,80.00 L501.21,80.50 L501.69,81.15 L502.22,81.91 L502.81,82.77 L503.47,83.70 L504.20,84.68 L504.99,85.67 L505.85,86.67 L506.78,87.65 L507.78,88.58 L508.85,89.44 L510.00,90.20 L511.25,90.90 L512.63,91.58 L514.11,92.25 L515.67,92.89 L517.31,93.51 L519.00,94.10 L520.72,94.66 L522.46,95.20 L524.19,95.70 L525.91,96.17 L527.58,96.61 L529.20,97.00 L530.79,97.36 L532.40,97.69 L534.01,97.99 L535.62,98.26 L537.23,98.50 L538.84,98.70 L540.43,98.87 L542.00,99.01 L543.55,99.11 L545.07,99.18 L546.55,99.21 L548.00,99.20 L549.40,99.16 L550.74,99.09 L552.04,98.98 L553.31,98.84 L554.55,98.66 L555.78,98.45 L557.01,98.20 L558.24,97.92 L559.48,97.60 L560.75,97.24 L562.05,96.84 L563.40,96.40 L564.80,95.91 L566.24,95.38 L567.71,94.80 L569.21,94.17 L570.72,93.51 L572.24,92.81 L573.75,92.09 L575.25,91.34 L576.72,90.57 L578.16,89.79 L579.56,89.00 L580.90,88.20 L582.22,87.37 L583.54,86.48 L584.86,85.56 L586.17,84.60 L587.45,83.62 L588.70,82.64 L589.90,81.66 L591.05,80.69 L592.14,79.75 L593.15,78.85 L594.07,77.99 L594.90,77.20 L595.62,76.47 L596.25,75.79 L596.79,75.15 L597.24,74.54 L597.64,73.96 L597.98,73.40 L598.28,72.85 L598.56,72.30 L598.81,71.75 L599.06,71.19 L599.32,70.61 L599.60,70.00 L599.88,69.35 L600.15,68.65 L600.40,67.92 L600.63,67.17 L600.84,66.42 L601.04,65.67 L601.23,64.96 L601.39,64.28 L601.54,63.66 L601.68,63.10 L601.80,62.63 L601.90,62.25" stroke="url(#gS)" stroke-width="1.1" stroke-opacity="0.95"/>
<path d="M500.80,80.00 L501.20,80.52 L501.61,81.21 L502.02,82.05 L502.45,83.02 L502.94,84.09 L503.54,85.18 L504.31,86.24 L505.15,87.31 L506.07,88.37 L507.09,89.38 L508.21,90.31 L509.43,91.14 L510.74,91.87 L512.17,92.54 L513.71,93.17 L515.33,93.75 L517.02,94.30 L518.75,94.83 L520.51,95.33 L522.27,95.82 L524.03,96.29 L525.76,96.73 L527.44,97.16 L529.07,97.54 L530.67,97.90 L532.29,98.23 L533.91,98.53 L535.54,98.80 L537.16,99.04 L538.77,99.25 L540.37,99.42 L541.96,99.56 L543.52,99.66 L545.05,99.73 L546.55,99.76 L548.01,99.75 L549.42,99.71 L550.78,99.63 L552.09,99.53 L553.38,99.38 L554.64,99.20 L555.88,98.99 L557.12,98.74 L558.37,98.45 L559.63,98.13 L560.91,97.76 L562.22,97.36 L563.58,96.92 L564.98,96.43 L566.43,95.89 L567.92,95.30 L569.42,94.68 L570.94,94.01 L572.47,93.31 L573.99,92.58 L575.50,91.83 L576.98,91.06 L578.43,90.27 L579.83,89.47 L581.19,88.67 L582.52,87.83 L583.85,86.94 L585.18,86.00 L586.50,85.04 L587.79,84.06 L589.04,83.07 L590.25,82.08 L591.41,81.11 L592.50,80.16 L593.52,79.25 L594.45,78.39 L595.28,77.59 L596.02,76.85 L596.66,76.15 L597.22,75.49 L597.69,74.86 L598.10,74.26 L598.46,73.67 L598.77,73.10 L599.05,72.54 L599.31,71.98 L599.57,71.41 L599.82,70.83 L600.10,70.22 L600.39,69.56 L600.67,68.84 L600.92,68.09 L601.16,67.33 L601.37,66.56 L601.58,65.81 L601.76,65.09 L601.93,64.41 L602.08,63.78 L602.21,63.23 L602.33,62.77 L602.43,62.40" stroke="url(#gS)" stroke-width="1.1" stroke-opacity="0.95"/>
<path d="M500.80,80.00 L501.18,80.53 L501.53,81.26 L501.82,82.19 L502.09,83.28 L502.40,84.48 L502.89,85.68 L503.62,86.81 L504.44,87.95 L505.36,89.08 L506.40,90.18 L507.57,91.19 L508.85,92.08 L510.23,92.83 L511.72,93.50 L513.32,94.09 L514.99,94.62 L516.73,95.10 L518.51,95.55 L520.30,95.99 L522.09,96.43 L523.86,96.87 L525.61,97.30 L527.31,97.71 L528.94,98.09 L530.56,98.44 L532.18,98.77 L533.82,99.08 L535.45,99.35 L537.08,99.59 L538.71,99.79 L540.32,99.97 L541.92,100.10 L543.49,100.21 L545.03,100.28 L546.54,100.31 L548.02,100.30 L549.44,100.26 L550.81,100.18 L552.15,100.07 L553.45,99.93 L554.72,99.75 L555.98,99.53 L557.24,99.28 L558.50,98.99 L559.77,98.66 L561.06,98.29 L562.39,97.89 L563.75,97.44 L565.17,96.95 L566.63,96.41 L568.12,95.81 L569.64,95.18 L571.17,94.51 L572.70,93.81 L574.23,93.08 L575.75,92.32 L577.24,91.54 L578.70,90.75 L580.11,89.95 L581.47,89.14 L582.82,88.29 L584.17,87.39 L585.51,86.45 L586.83,85.48 L588.13,84.49 L589.39,83.50 L590.60,82.50 L591.77,81.53 L592.86,80.57 L593.88,79.66 L594.82,78.79 L595.67,77.99 L596.42,77.23 L597.08,76.51 L597.65,75.83 L598.14,75.18 L598.56,74.55 L598.93,73.95 L599.26,73.36 L599.55,72.78 L599.81,72.21 L600.07,71.64 L600.32,71.06 L600.60,70.45 L600.90,69.76 L601.18,69.02 L601.44,68.26 L601.68,67.48 L601.91,66.71 L602.11,65.95 L602.29,65.22 L602.46,64.54 L602.61,63.91 L602.75,63.36 L602.86,62.90 L602.96,62.54" stroke="url(#gS)" stroke-width="1.1" stroke-opacity="0.95"/>
</g>
<path d="M492.2,43.900000000000006 A18.45,18.45 0 0 1 492.2,80.8 Z" fill="#808080"/>
<path d="M492.2,43.900000000000006 A18.45,18.45 0 0 0 492.2,80.8 Z" fill="#fff"/>
<circle cx="492.2" cy="62.35" r="18.45" fill="none" stroke="#111" stroke-width="1.1"/>
<line x1="501.5" y1="80.8" x2="515.8" y2="75.9" stroke="#13928c" stroke-width="1.2"/>
<circle cx="501.5" cy="80.8" r="2.3" fill="#13928c"/>
<text x="515.8" y="72.7" font-size="12.3" fill="#13928c">DMSP F19</text>
<rect x="592.8" y="71" width="9.4" height="9.2" fill="none" stroke="#ff00ff" stroke-width="1.1"/>
<rect x="589.4" y="76.6" width="9.2" height="8.9" fill="none" stroke="#8b1a8b" stroke-width="1.1"/>
<text x="607.4" y="72.8" font-size="12.3" fill="#ff00ff">RBSP-A</text>
<text x="603.8" y="93.8" font-size="12.3" fill="#8b1a8b">RBSP-B</text>
<text x="461" y="21.6" font-size="10">Model: T04S</text>
<rect x="455.6" y="6.8" width="220.80" height="110.60" fill="none" stroke="#000" stroke-width="1.2"/>
<line x1="455.40" y1="6.8" x2="455.40" y2="2.8" stroke="#000" stroke-width="1.1"/>
<line x1="455.40" y1="117.4" x2="455.40" y2="121.4" stroke="#000" stroke-width="1.1"/>
<line x1="473.80" y1="6.8" x2="473.80" y2="4.8" stroke="#000" stroke-width="1.1"/>
<line x1="473.80" y1="117.4" x2="473.80" y2="119.4" stroke="#000" stroke-width="1.1"/>
<line x1="492.20" y1="6.8" x2="492.20" y2="2.8" stroke="#000" stroke-width="1.1"/>
<line x1="492.20" y1="117.4" x2="492.20" y2="121.4" stroke="#000" stroke-width="1.1"/>
<line x1="510.60" y1="6.8" x2="510.60" y2="4.8" stroke="#000" stroke-width="1.1"/>
<line x1="510.60" y1="117.4" x2="510.60" y2="119.4" stroke="#000" stroke-width="1.1"/>
<line x1="529.00" y1="6.8" x2="529.00" y2="2.8" stroke="#000" stroke-width="1.1"/>
<line x1="529.00" y1="117.4" x2="529.00" y2="121.4" stroke="#000" stroke-width="1.1"/>
<line x1="547.40" y1="6.8" x2="547.40" y2="4.8" stroke="#000" stroke-width="1.1"/>
<line x1="547.40" y1="117.4" x2="547.40" y2="119.4" stroke="#000" stroke-width="1.1"/>
<line x1="565.80" y1="6.8" x2="565.80" y2="2.8" stroke="#000" stroke-width="1.1"/>
<line x1="565.80" y1="117.4" x2="565.80" y2="121.4" stroke="#000" stroke-width="1.1"/>
<line x1="584.20" y1="6.8" x2="584.20" y2="4.8" stroke="#000" stroke-width="1.1"/>
<line x1="584.20" y1="117.4" x2="584.20" y2="119.4" stroke="#000" stroke-width="1.1"/>
<line x1="602.60" y1="6.8" x2="602.60" y2="2.8" stroke="#000" stroke-width="1.1"/>
<line x1="602.60" y1="117.4" x2="602.60" y2="121.4" stroke="#000" stroke-width="1.1"/>
<line x1="621.00" y1="6.8" x2="621.00" y2="4.8" stroke="#000" stroke-width="1.1"/>
<line x1="621.00" y1="117.4" x2="621.00" y2="119.4" stroke="#000" stroke-width="1.1"/>
<line x1="639.40" y1="6.8" x2="639.40" y2="2.8" stroke="#000" stroke-width="1.1"/>
<line x1="639.40" y1="117.4" x2="639.40" y2="121.4" stroke="#000" stroke-width="1.1"/>
<line x1="657.80" y1="6.8" x2="657.80" y2="4.8" stroke="#000" stroke-width="1.1"/>
<line x1="657.80" y1="117.4" x2="657.80" y2="119.4" stroke="#000" stroke-width="1.1"/>
<line x1="676.20" y1="6.8" x2="676.20" y2="2.8" stroke="#000" stroke-width="1.1"/>
<line x1="676.20" y1="117.4" x2="676.20" y2="121.4" stroke="#000" stroke-width="1.1"/>
<line x1="455.6" y1="117.45" x2="453.6" y2="117.45" stroke="#000" stroke-width="1.1"/>
<line x1="676.4" y1="117.45" x2="678.4" y2="117.45" stroke="#000" stroke-width="1.1"/>
<line x1="455.6" y1="99.05" x2="451.6" y2="99.05" stroke="#000" stroke-width="1.1"/>
<line x1="676.4" y1="99.05" x2="680.4" y2="99.05" stroke="#000" stroke-width="1.1"/>
<line x1="455.6" y1="80.65" x2="453.6" y2="80.65" stroke="#000" stroke-width="1.1"/>
<line x1="676.4" y1="80.65" x2="678.4" y2="80.65" stroke="#000" stroke-width="1.1"/>
<line x1="455.6" y1="62.25" x2="451.6" y2="62.25" stroke="#000" stroke-width="1.1"/>
<line x1="676.4" y1="62.25" x2="680.4" y2="62.25" stroke="#000" stroke-width="1.1"/>
<line x1="455.6" y1="43.85" x2="453.6" y2="43.85" stroke="#000" stroke-width="1.1"/>
<line x1="676.4" y1="43.85" x2="678.4" y2="43.85" stroke="#000" stroke-width="1.1"/>
<line x1="455.6" y1="25.45" x2="451.6" y2="25.45" stroke="#000" stroke-width="1.1"/>
<line x1="676.4" y1="25.45" x2="680.4" y2="25.45" stroke="#000" stroke-width="1.1"/>
<line x1="455.6" y1="7.05" x2="453.6" y2="7.05" stroke="#000" stroke-width="1.1"/>
<line x1="676.4" y1="7.05" x2="678.4" y2="7.05" stroke="#000" stroke-width="1.1"/>
<text x="447.6" y="31.75" font-size="12" text-anchor="end">2</text>
<text x="447.6" y="68.55" font-size="12" text-anchor="end">0</text>
<text x="447.6" y="105.35" font-size="12" text-anchor="end">-2</text>
<text x="492.20" y="134.8" font-size="12" text-anchor="middle">0</text>
<text x="529.00" y="134.8" font-size="12" text-anchor="middle">-2</text>
<text x="565.80" y="134.8" font-size="12" text-anchor="middle">-4</text>
<text x="602.60" y="134.8" font-size="12" text-anchor="middle">-6</text>
<text x="639.40" y="134.8" font-size="12" text-anchor="middle">-8</text>
<text x="676.20" y="134.8" font-size="12" text-anchor="middle">-10</text>
<text x="407.3" y="134.8" font-size="12.2">SM R<tspan dy="3" font-size="8.5">XY</tspan><tspan dy="-3"> (Re)</tspan></text>
<text transform="translate(421.4,61.5) rotate(-90)" x="0" y="0" font-size="12" text-anchor="middle">SM Z (Re)</text>
<text x="418.6" y="15.3" font-size="12">c.</text>
<defs><clipPath id="cd"><rect x="455.7" y="148.2" width="220.8" height="71.6"/></clipPath></defs>
<g clip-path="url(#cd)" fill="none">
<line x1="523.6" y1="148.2" x2="523.6" y2="219.8" stroke="#ff00ff" stroke-width="1.3" stroke-dasharray="1.3 3.75"/>
<line x1="543.9" y1="148.2" x2="543.9" y2="219.8" stroke="#a24aa6" stroke-width="1.3" stroke-dasharray="1.3 3.75"/>
<path d="M455.80,176.30 L457.35,176.06 L458.90,176.61 L460.45,176.49 L462.00,176.80 L463.57,177.00 L465.15,177.08 L466.73,176.34 L468.30,177.00 L469.64,176.72 L470.98,178.27 L472.32,177.86 L473.66,178.23 L475.00,179.00 L476.34,180.29 L477.68,180.16 L479.02,181.27 L480.36,181.37 L481.70,182.00 L483.03,182.62 L484.36,182.37 L485.69,183.47 L487.01,184.23 L488.34,184.18 L489.67,184.91 L491.00,185.00 L492.50,185.27 L494.00,184.46 L495.50,185.46 L497.00,185.26 L498.50,184.89 L500.00,185.20 L501.43,184.49 L502.85,185.61 L504.27,185.01 L505.70,185.00 L507.23,184.74 L508.77,184.40 L510.30,183.30 L511.87,184.17 L513.43,185.02 L515.00,185.00 L516.67,185.02 L518.33,185.75 L520.00,185.50 L521.50,185.82 L523.00,186.30 L524.85,187.36 L526.70,187.20 L528.35,189.38 L530.00,190.50 L531.65,191.59 L533.30,193.80 L535.00,195.39 L536.70,198.00 L538.30,201.30 L540.00,203.80 L541.20,198.50 L542.50,204.70 L543.60,200.00 L544.20,199.70 L545.00,210.50 L546.00,203.00 L547.30,194.70 L548.30,206.30 L549.20,215.50 L550.00,208.00 L550.60,199.70 L551.30,178.00 L551.70,168.80 L552.20,189.70 L553.80,192.00 L555.70,185.00 L557.70,188.90 L559.60,188.20 L561.50,190.20 L563.50,192.70 L565.10,191.70 L566.70,191.50 L568.60,181.80 L570.60,177.30 L571.90,179.20 L572.50,184.40 L573.80,184.40 L575.10,183.10 L577.00,177.90 L578.30,175.86 L579.60,174.00 L581.50,181.80 L583.50,179.20 L585.10,179.68 L586.70,179.80 L588.65,178.57 L590.60,177.90 L592.55,178.86 L594.50,179.80 L596.20,180.31 L597.90,180.92 L599.60,181.80 L601.55,181.57 L603.50,181.10 L605.45,180.92 L607.40,180.50 L608.70,180.82 L610.00,180.00 L611.34,180.31 L612.68,180.72 L614.02,180.68 L615.36,180.93 L616.70,180.30 L618.02,180.82 L619.34,180.39 L620.66,181.64 L621.98,182.07 L623.30,181.70 L625.00,184.57 L626.70,186.30 L628.23,185.53 L629.77,184.87 L631.30,183.70 L632.63,183.73 L633.97,185.03 L635.30,185.00 L637.00,183.75 L638.70,182.30 L640.70,186.30 L642.03,184.67 L643.35,183.04 L644.67,182.82 L646.00,181.00 L647.34,181.43 L648.68,179.90 L650.02,180.64 L651.36,179.83 L652.70,179.70 L654.03,179.40 L655.36,179.78 L656.69,180.63 L658.01,180.96 L659.34,179.99 L660.67,180.97 L662.00,181.00 L663.33,180.15 L664.67,180.87 L666.00,180.11 L667.33,180.67 L668.67,180.59 L670.00,179.70 L671.50,179.46 L673.00,179.90 L674.50,178.68 L676.00,178.70" stroke="#7f0f86" stroke-width="1.35" stroke-linejoin="round"/>
<path d="M455.80,170.00 L457.40,169.79 L459.00,170.00 L460.33,170.52 L461.66,170.71 L462.99,171.27 L464.31,171.84 L465.64,172.41 L466.97,172.66 L468.30,173.30 L469.64,173.38 L470.98,174.08 L472.32,174.11 L473.66,174.72 L475.00,174.99 L476.34,175.04 L477.68,175.38 L479.02,175.71 L480.36,176.07 L481.70,176.30 L483.02,176.56 L484.35,176.75 L485.68,177.00 L487.00,177.37 L488.32,177.37 L489.65,177.54 L490.98,177.90 L492.30,178.00 L493.78,178.49 L495.26,179.14 L496.74,180.09 L498.22,180.49 L499.70,181.10 L501.08,181.12 L502.46,180.86 L503.84,181.06 L505.21,181.14 L506.59,180.86 L507.97,181.16 L509.35,181.16 L510.73,180.88 L512.11,181.16 L513.49,181.08 L514.86,181.19 L516.24,181.03 L517.62,181.20 L519.00,181.10 L520.35,180.73 L521.70,179.70 L522.80,179.00 L523.50,192.00 L524.20,178.00 L525.10,172.40 L526.00,174.70 L527.40,170.13 L528.80,166.90 L529.70,176.10 L531.10,171.50 L532.90,172.90 L534.70,161.40 L536.10,166.90 L537.50,166.08 L538.90,166.50 L540.70,167.90 L542.50,168.80 L544.10,168.05 L545.70,166.00 L548.00,168.80 L549.90,160.50 L551.20,168.80 L553.50,162.80 L555.40,166.90 L556.93,166.12 L558.47,165.97 L560.00,165.60 L561.35,168.48 L562.70,171.10 L565.00,166.50 L567.30,166.00 L568.65,170.10 L570.00,174.70 L571.90,172.90 L573.50,171.11 L575.10,169.70 L576.58,168.69 L578.05,168.02 L579.52,167.58 L581.00,166.70 L582.33,166.10 L583.65,165.64 L584.97,165.33 L586.30,164.70 L588.00,165.77 L589.70,167.30 L591.10,166.93 L592.50,166.62 L593.90,166.01 L595.30,165.70 L596.65,166.56 L598.00,167.70 L599.35,169.85 L600.70,171.70 L602.03,172.91 L603.37,174.21 L604.70,175.70 L606.03,175.32 L607.35,175.10 L608.67,174.45 L610.00,174.30 L611.33,174.78 L612.67,175.35 L614.00,176.00 L615.35,175.66 L616.70,175.00 L618.03,175.36 L619.36,175.95 L620.69,176.00 L622.01,176.46 L623.34,177.00 L624.67,177.50 L626.00,177.70 L627.34,177.88 L628.68,177.97 L630.02,178.11 L631.36,178.51 L632.70,178.70 L634.03,178.30 L635.35,178.35 L636.67,178.12 L638.00,177.70 L639.33,176.87 L640.65,176.24 L641.97,175.83 L643.30,175.00 L644.64,174.78 L645.99,174.58 L647.33,174.07 L648.67,173.68 L650.01,173.47 L651.36,173.43 L652.70,173.00 L654.02,172.23 L655.34,171.60 L656.66,170.98 L657.98,170.32 L659.30,169.70 L660.64,169.57 L661.97,169.73 L663.31,169.27 L664.65,169.11 L665.99,169.48 L667.33,169.36 L668.66,169.33 L670.00,169.00 L671.33,169.63 L672.67,170.55 L674.00,171.00 L676.50,170.00" stroke="#ff00ff" stroke-width="1.15" stroke-linejoin="round"/>
</g>
<rect x="455.7" y="148.2" width="220.80" height="71.60" fill="none" stroke="#000" stroke-width="1.2"/>
<line x1="455.70" y1="148.2" x2="455.70" y2="144.2" stroke="#000" stroke-width="1.1"/>
<line x1="455.70" y1="219.8" x2="455.70" y2="223.8" stroke="#000" stroke-width="1.1"/>
<line x1="464.53" y1="148.2" x2="464.53" y2="146.2" stroke="#000" stroke-width="1.1"/>
<line x1="464.53" y1="219.8" x2="464.53" y2="221.8" stroke="#000" stroke-width="1.1"/>
<line x1="473.36" y1="148.2" x2="473.36" y2="146.2" stroke="#000" stroke-width="1.1"/>
<line x1="473.36" y1="219.8" x2="473.36" y2="221.8" stroke="#000" stroke-width="1.1"/>
<line x1="482.20" y1="148.2" x2="482.20" y2="146.2" stroke="#000" stroke-width="1.1"/>
<line x1="482.20" y1="219.8" x2="482.20" y2="221.8" stroke="#000" stroke-width="1.1"/>
<line x1="491.03" y1="148.2" x2="491.03" y2="146.2" stroke="#000" stroke-width="1.1"/>
<line x1="491.03" y1="219.8" x2="491.03" y2="221.8" stroke="#000" stroke-width="1.1"/>
<line x1="499.86" y1="148.2" x2="499.86" y2="144.2" stroke="#000" stroke-width="1.1"/>
<line x1="499.86" y1="219.8" x2="499.86" y2="223.8" stroke="#000" stroke-width="1.1"/>
<line x1="508.69" y1="148.2" x2="508.69" y2="146.2" stroke="#000" stroke-width="1.1"/>
<line x1="508.69" y1="219.8" x2="508.69" y2="221.8" stroke="#000" stroke-width="1.1"/>
<line x1="517.52" y1="148.2" x2="517.52" y2="146.2" stroke="#000" stroke-width="1.1"/>
<line x1="517.52" y1="219.8" x2="517.52" y2="221.8" stroke="#000" stroke-width="1.1"/>
<line x1="526.36" y1="148.2" x2="526.36" y2="146.2" stroke="#000" stroke-width="1.1"/>
<line x1="526.36" y1="219.8" x2="526.36" y2="221.8" stroke="#000" stroke-width="1.1"/>
<line x1="535.19" y1="148.2" x2="535.19" y2="146.2" stroke="#000" stroke-width="1.1"/>
<line x1="535.19" y1="219.8" x2="535.19" y2="221.8" stroke="#000" stroke-width="1.1"/>
<line x1="544.02" y1="148.2" x2="544.02" y2="144.2" stroke="#000" stroke-width="1.1"/>
<line x1="544.02" y1="219.8" x2="544.02" y2="223.8" stroke="#000" stroke-width="1.1"/>
<line x1="552.85" y1="148.2" x2="552.85" y2="146.2" stroke="#000" stroke-width="1.1"/>
<line x1="552.85" y1="219.8" x2="552.85" y2="221.8" stroke="#000" stroke-width="1.1"/>
<line x1="561.68" y1="148.2" x2="561.68" y2="146.2" stroke="#000" stroke-width="1.1"/>
<line x1="561.68" y1="219.8" x2="561.68" y2="221.8" stroke="#000" stroke-width="1.1"/>
<line x1="570.52" y1="148.2" x2="570.52" y2="146.2" stroke="#000" stroke-width="1.1"/>
<line x1="570.52" y1="219.8" x2="570.52" y2="221.8" stroke="#000" stroke-width="1.1"/>
<line x1="579.35" y1="148.2" x2="579.35" y2="146.2" stroke="#000" stroke-width="1.1"/>
<line x1="579.35" y1="219.8" x2="579.35" y2="221.8" stroke="#000" stroke-width="1.1"/>
<line x1="588.18" y1="148.2" x2="588.18" y2="144.2" stroke="#000" stroke-width="1.1"/>
<line x1="588.18" y1="219.8" x2="588.18" y2="223.8" stroke="#000" stroke-width="1.1"/>
<line x1="597.01" y1="148.2" x2="597.01" y2="146.2" stroke="#000" stroke-width="1.1"/>
<line x1="597.01" y1="219.8" x2="597.01" y2="221.8" stroke="#000" stroke-width="1.1"/>
<line x1="605.84" y1="148.2" x2="605.84" y2="146.2" stroke="#000" stroke-width="1.1"/>
<line x1="605.84" y1="219.8" x2="605.84" y2="221.8" stroke="#000" stroke-width="1.1"/>
<line x1="614.68" y1="148.2" x2="614.68" y2="146.2" stroke="#000" stroke-width="1.1"/>
<line x1="614.68" y1="219.8" x2="614.68" y2="221.8" stroke="#000" stroke-width="1.1"/>
<line x1="623.51" y1="148.2" x2="623.51" y2="146.2" stroke="#000" stroke-width="1.1"/>
<line x1="623.51" y1="219.8" x2="623.51" y2="221.8" stroke="#000" stroke-width="1.1"/>
<line x1="632.34" y1="148.2" x2="632.34" y2="144.2" stroke="#000" stroke-width="1.1"/>
<line x1="632.34" y1="219.8" x2="632.34" y2="223.8" stroke="#000" stroke-width="1.1"/>
<line x1="641.17" y1="148.2" x2="641.17" y2="146.2" stroke="#000" stroke-width="1.1"/>
<line x1="641.17" y1="219.8" x2="641.17" y2="221.8" stroke="#000" stroke-width="1.1"/>
<line x1="650.00" y1="148.2" x2="650.00" y2="146.2" stroke="#000" stroke-width="1.1"/>
<line x1="650.00" y1="219.8" x2="650.00" y2="221.8" stroke="#000" stroke-width="1.1"/>
<line x1="658.84" y1="148.2" x2="658.84" y2="146.2" stroke="#000" stroke-width="1.1"/>
<line x1="658.84" y1="219.8" x2="658.84" y2="221.8" stroke="#000" stroke-width="1.1"/>
<line x1="667.67" y1="148.2" x2="667.67" y2="146.2" stroke="#000" stroke-width="1.1"/>
<line x1="667.67" y1="219.8" x2="667.67" y2="221.8" stroke="#000" stroke-width="1.1"/>
<line x1="676.50" y1="148.2" x2="676.50" y2="144.2" stroke="#000" stroke-width="1.1"/>
<line x1="676.50" y1="219.8" x2="676.50" y2="223.8" stroke="#000" stroke-width="1.1"/>
<line x1="455.7" y1="219.80" x2="453.7" y2="219.80" stroke="#000" stroke-width="1.1"/>
<line x1="676.5" y1="219.80" x2="678.5" y2="219.80" stroke="#000" stroke-width="1.1"/>
<line x1="455.7" y1="212.64" x2="453.7" y2="212.64" stroke="#000" stroke-width="1.1"/>
<line x1="676.5" y1="212.64" x2="678.5" y2="212.64" stroke="#000" stroke-width="1.1"/>
<line x1="455.7" y1="205.48" x2="453.7" y2="205.48" stroke="#000" stroke-width="1.1"/>
<line x1="676.5" y1="205.48" x2="678.5" y2="205.48" stroke="#000" stroke-width="1.1"/>
<line x1="455.7" y1="198.32" x2="451.7" y2="198.32" stroke="#000" stroke-width="1.1"/>
<line x1="676.5" y1="198.32" x2="680.5" y2="198.32" stroke="#000" stroke-width="1.1"/>
<line x1="455.7" y1="191.16" x2="453.7" y2="191.16" stroke="#000" stroke-width="1.1"/>
<line x1="676.5" y1="191.16" x2="678.5" y2="191.16" stroke="#000" stroke-width="1.1"/>
<line x1="455.7" y1="184.00" x2="453.7" y2="184.00" stroke="#000" stroke-width="1.1"/>
<line x1="676.5" y1="184.00" x2="678.5" y2="184.00" stroke="#000" stroke-width="1.1"/>
<line x1="455.7" y1="176.84" x2="453.7" y2="176.84" stroke="#000" stroke-width="1.1"/>
<line x1="676.5" y1="176.84" x2="678.5" y2="176.84" stroke="#000" stroke-width="1.1"/>
<line x1="455.7" y1="169.68" x2="451.7" y2="169.68" stroke="#000" stroke-width="1.1"/>
<line x1="676.5" y1="169.68" x2="680.5" y2="169.68" stroke="#000" stroke-width="1.1"/>
<line x1="455.7" y1="162.52" x2="453.7" y2="162.52" stroke="#000" stroke-width="1.1"/>
<line x1="676.5" y1="162.52" x2="678.5" y2="162.52" stroke="#000" stroke-width="1.1"/>
<line x1="455.7" y1="155.36" x2="453.7" y2="155.36" stroke="#000" stroke-width="1.1"/>
<line x1="676.5" y1="155.36" x2="678.5" y2="155.36" stroke="#000" stroke-width="1.1"/>
<line x1="455.7" y1="148.20" x2="453.7" y2="148.20" stroke="#000" stroke-width="1.1"/>
<line x1="676.5" y1="148.20" x2="678.5" y2="148.20" stroke="#000" stroke-width="1.1"/>
<text x="446.6" y="204.52" font-size="12" text-anchor="end">20</text>
<text x="446.6" y="175.88" font-size="12" text-anchor="end">40</text>
<text transform="translate(419.3,184.2) rotate(-90)" x="0" y="0" font-size="12.4" text-anchor="middle">(deg)</text>
<text x="419" y="157.5" font-size="12">d.</text>
<text x="407.6" y="236.8" font-size="12.6">2015 Apr 16</text>
<text x="499.86" y="236.8" font-size="12" text-anchor="middle">08:05</text>
<text x="544.02" y="236.8" font-size="12" text-anchor="middle">08:10</text>
<text x="588.18" y="236.8" font-size="12" text-anchor="middle">08:15</text>
<text x="632.34" y="236.8" font-size="12" text-anchor="middle">08:20</text>
<text x="675.3" y="236.8" font-size="12" text-anchor="middle">UT</text>
<text x="666.6" y="203.8" font-size="12.1" fill="#ff00ff" text-anchor="end">RBSP-A</text>
<text x="666.6" y="216" font-size="12.1" fill="#7f0f86" text-anchor="end">RBSP-B</text>
</svg></body></html>
